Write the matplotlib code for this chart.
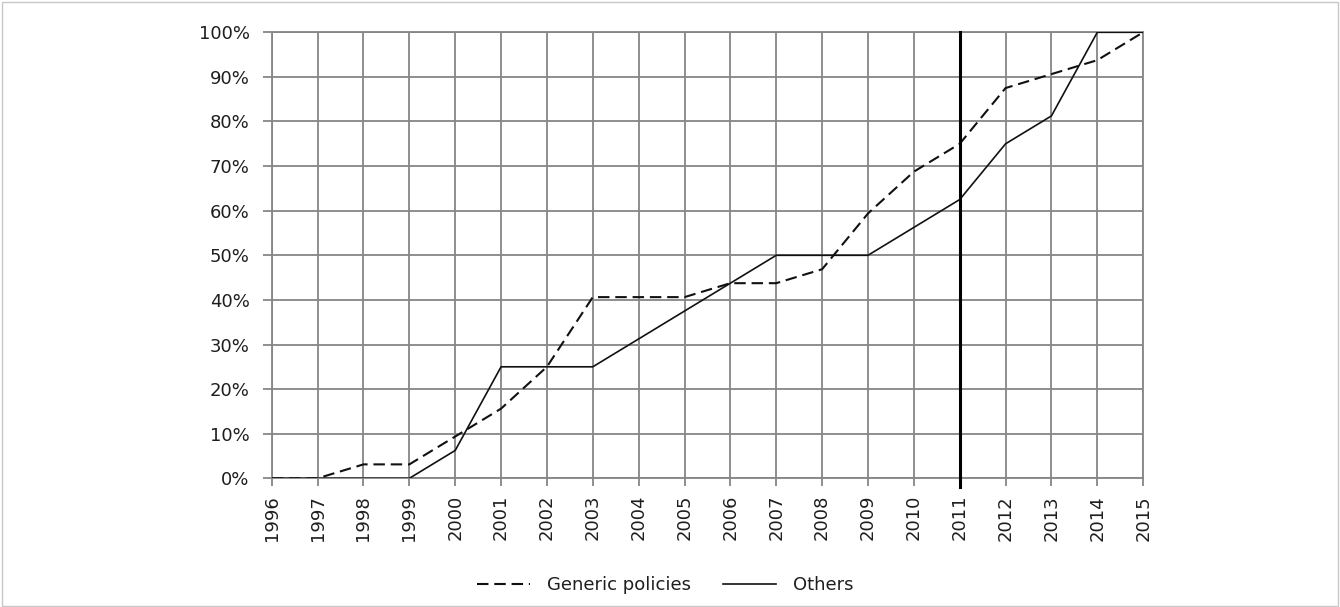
import matplotlib
matplotlib.use("Agg")
import matplotlib.pyplot as plt
from matplotlib.patches import Rectangle
from matplotlib.ticker import PercentFormatter

years = list(range(1996, 2016))
generic_policies = [0, 0, 3.125, 3.125, 9.375, 15.625, 25, 40.625, 40.625, 40.625,
                    43.75, 43.75, 46.875, 59.375, 68.75, 75, 87.5, 90.625, 93.75, 100]
others = [0, 0, 0, 0, 6.25, 25, 25, 25, 31.25, 37.5,
          43.75, 50, 50, 50, 56.25, 62.5, 75, 81.25, 100, 100]
marker_year = 2011
y_ticks = list(range(0, 101, 10))

plt.rcParams['font.family'] = ['DejaVu Sans']

fig = plt.figure(figsize=(13.4, 6.07), dpi=100)
ax = fig.add_axes([0.2028, 0.212, 0.6503, 0.7348])

grid_c = '#868686'
txt_c = '#1e1e1e'
ax.set_xlim(years[0], years[-1])
ax.set_ylim(0, 100)
ax.set_xticks(years)
ax.set_xticklabels([str(y) for y in years], rotation=90, fontsize=13)
ax.set_yticks(y_ticks)
ax.yaxis.set_major_formatter(PercentFormatter(decimals=0))
ax.tick_params(axis='y', labelsize=13, length=6.5, width=1.3, color=grid_c, pad=9.5, labelcolor=txt_c)
ax.tick_params(axis='x', length=6, width=1.3, color=grid_c, pad=6, labelcolor=txt_c)
ax.grid(True, color=grid_c, linewidth=1.3)
for s in ax.spines.values():
    s.set_color(grid_c)
    s.set_linewidth(1.3)
ax.set_axisbelow(True)

ax.plot(years, generic_policies, color='#111111', lw=1.5, linestyle=(0, (5.5, 2.8)),
        label='Generic policies', zorder=3)
ax.plot(years, others, color='#111111', lw=1.2, label='Others', zorder=3)
ax.axvline(marker_year, ymin=-0.019, ymax=1, color='black', lw=2.2, clip_on=False, zorder=4)

leg = fig.legend(loc='center', bbox_to_anchor=(0.4966, 0.036), ncol=2, frameon=False,
                 fontsize=13, handlelength=2.9, columnspacing=1.8, handletextpad=0.95)
for t in leg.get_texts():
    t.set_color(txt_c)

fig.patches.append(Rectangle((0.0015, 0.002), 0.997, 0.995, transform=fig.transFigure,
                             fill=False, edgecolor='#c8c8c8', lw=1.0))

fig.savefig('out.png', dpi=100)
